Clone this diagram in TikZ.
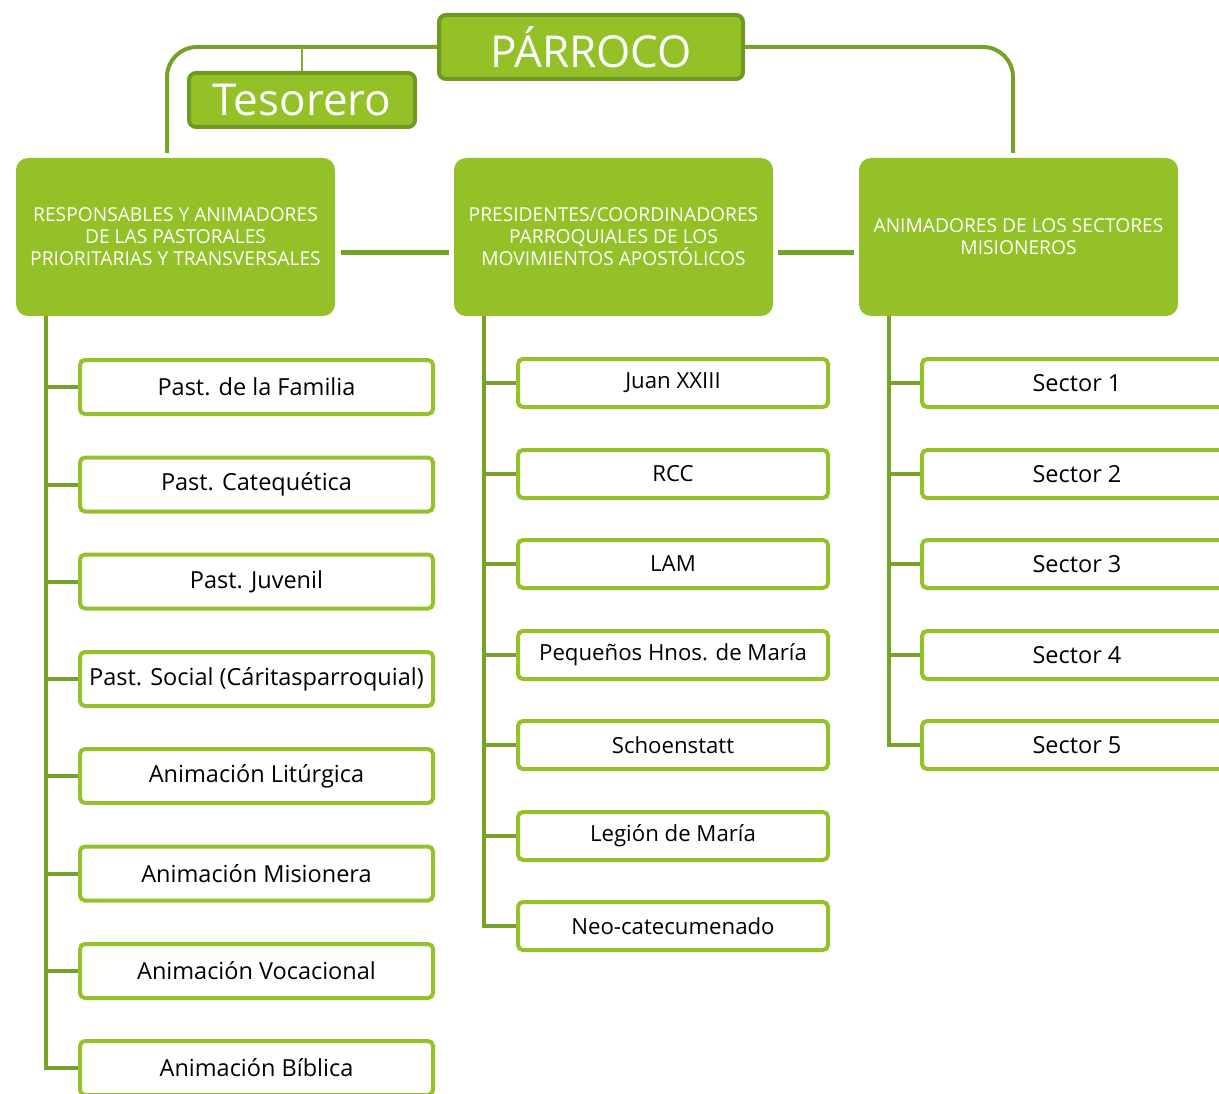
\documentclass[tikz,border=0pt]{standalone}
\usepackage{fontspec}
\setmainfont{Open Sans}
\definecolor{headgreen}{HTML}{93C127}
\definecolor{rimgreen}{HTML}{6F9A22}
\definecolor{linkgreen}{HTML}{77A22A}
\definecolor{boxgreen}{HTML}{95C22B}
\begin{document}
\begin{tikzpicture}[x=1pt, y=-1pt,
        top/.style = {draw=rimgreen, line width=4pt, fill=headgreen, rounded corners=7pt, text=white, inner sep=0pt, font=\fontsize{44}{48}\selectfont},
        head/.style = {fill=headgreen, rounded corners=12pt, text=white, align=center, minimum width=319pt, minimum height=158pt, inner sep=0pt, font=\fontsize{19.2}{22}\selectfont},
        item/.style = {draw=boxgreen, line width=4pt, fill=white, rounded corners=5pt, inner sep=0pt, font=\fontsize{23.5}{26}\selectfont},
        left/.style = {item, minimum width=353pt, minimum height=54pt},
        mid/.style = {item, minimum width=310pt, minimum height=48pt},
        link/.style = {draw=linkgreen, line width=4pt}]
    \useasboundingbox (0,0) rectangle (1219,1094);
    % top
    \node[top, minimum width=304pt, minimum height=64pt] (p) at (591,47) {PÁRROCO};
    \node[top, minimum width=226pt, minimum height=54pt] (t) at (302,100) {Tesorero};
    % headers
    \node[head] (h1) at (175.5,237) {RESPONSABLES Y ANIMADORES\\DE LAS PASTORALES\\PRIORITARIAS Y TRANSVERSALES};
    \node[head] (h2) at (613.5,237) {PRESIDENTES/COORDINADORES\\PARROQUIALES DE LOS\\MOVIMIENTOS APOSTÓLICOS};
    \node[head] (h3) at (1018.5,237) {ANIMADORES DE LOS SECTORES\\MISIONEROS};
    % left column
    \node[left] (l1) at (256.5,387) {Past. de la Familia};
    \node[left] (l2) at (256.5,484.5) {Past. Catequética};
    \node[left] (l3) at (256.5,581.5) {Past. Juvenil};
    \node[left] (l4) at (256.5,679) {Past. Social (Cáritasparroquial)};
    \node[left] (l5) at (256.5,776) {Animación Litúrgica};
    \node[left] (l6) at (256.5,873.5) {Animación Misionera};
    \node[left] (l7) at (256.5,971) {Animación Vocacional};
    \node[left] (l8) at (256.5,1068) {Animación Bíblica};
    % middle column
    \node[mid, font=\fontsize{22.2}{24}\selectfont] (m1) at (673,383) {Juan XXIII};
    \node[mid, font=\fontsize{22.2}{24}\selectfont] (m2) at (673,474) {RCC};
    \node[mid, font=\fontsize{22.2}{24}\selectfont] (m3) at (673,564) {LAM};
    \node[mid, font=\fontsize{22.2}{24}\selectfont] (m4) at (673,655) {Pequeños Hnos. de María};
    \node[mid, font=\fontsize{22.2}{24}\selectfont] (m5) at (673,745) {Schoenstatt};
    \node[mid, font=\fontsize{22.2}{24}\selectfont] (m6) at (673,836) {Legión de María};
    \node[mid, font=\fontsize{22.2}{24}\selectfont] (m7) at (673,926) {Neo-catecumenado};
    % right column
    \node[mid] (r1) at (1077,383) {Sector 1};
    \node[mid] (r2) at (1077,474) {Sector 2};
    \node[mid] (r3) at (1077,564) {Sector 3};
    \node[mid] (r4) at (1077,655) {Sector 4};
    \node[mid] (r5) at (1077,745) {Sector 5};
    \coordinate (s1) at ([xshift=30pt]h1.south west);
    \coordinate (s2) at ([xshift=30pt]h2.south west);
    \coordinate (s3) at ([xshift=30pt]h3.south west);
    % connectors
    \draw[link, rounded corners=30pt] (p.west) -| ([xshift=-8.5pt, yshift=5pt]h1.north);
    \draw[link, rounded corners=30pt] (p.east) -| ([xshift=-5.5pt, yshift=5pt]h3.north);
    \draw[draw=boxgreen!90!black, line width=2pt] (t.north) -- (t.north |- p.west);
    \draw[link, line width=5pt, shorten <=6pt, shorten >=5pt] ([yshift=-16pt]h1.east) -- ([yshift=-16pt]h2.west);
    \draw[link, line width=5pt, shorten <=5pt, shorten >=5pt] ([yshift=-16pt]h2.east) -- ([yshift=-16pt]h3.west);
    \draw[link] (s1) |- (l8.west);
    \draw[link] (l1.west) -- (l1.west -| s1);
    \draw[link] (l2.west) -- (l2.west -| s1);
    \draw[link] (l3.west) -- (l3.west -| s1);
    \draw[link] (l4.west) -- (l4.west -| s1);
    \draw[link] (l5.west) -- (l5.west -| s1);
    \draw[link] (l6.west) -- (l6.west -| s1);
    \draw[link] (l7.west) -- (l7.west -| s1);
    \draw[link] (s2) |- (m7.west);
    \draw[link] (m1.west) -- (m1.west -| s2);
    \draw[link] (m2.west) -- (m2.west -| s2);
    \draw[link] (m3.west) -- (m3.west -| s2);
    \draw[link] (m4.west) -- (m4.west -| s2);
    \draw[link] (m5.west) -- (m5.west -| s2);
    \draw[link] (m6.west) -- (m6.west -| s2);
    \draw[link] (s3) |- (r5.west);
    \draw[link] (r1.west) -- (r1.west -| s3);
    \draw[link] (r2.west) -- (r2.west -| s3);
    \draw[link] (r3.west) -- (r3.west -| s3);
    \draw[link] (r4.west) -- (r4.west -| s3);
\end{tikzpicture}
\end{document}
